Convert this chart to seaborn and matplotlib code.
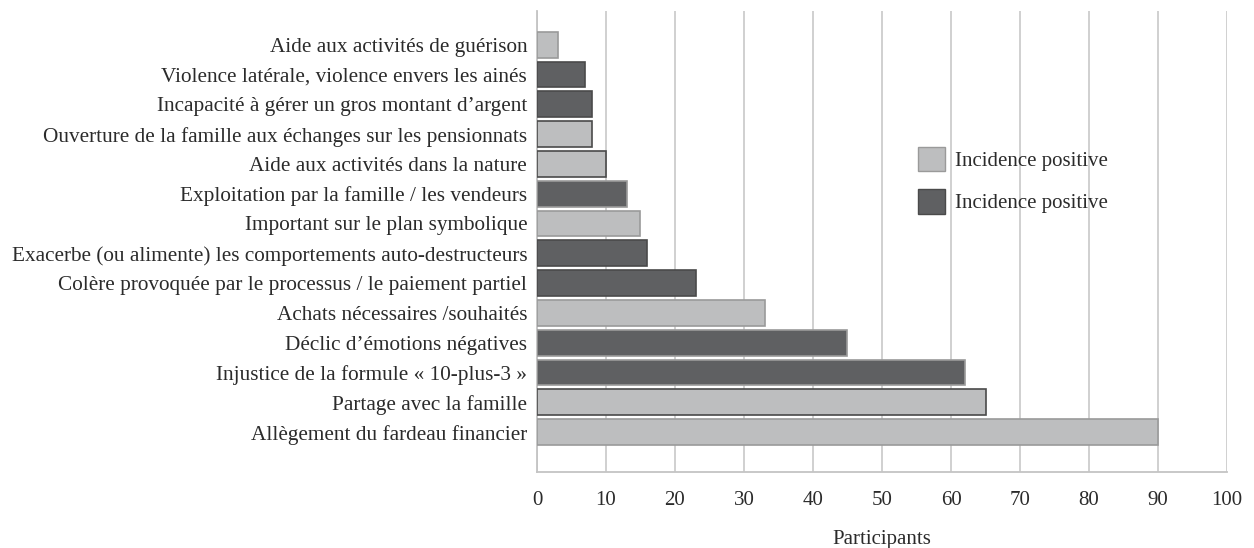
import seaborn as sns
import matplotlib.pyplot as plt
import matplotlib.patches as mpatches
import pandas as pd

# donnees (de haut en bas)
categories = [
    "Aide aux activités de guérison",
    "Violence latérale, violence envers les ainés",
    "Incapacité à gérer un gros montant d’argent",
    "Ouverture de la famille aux échanges sur les pensionnats",
    "Aide aux activités dans la nature",
    "Exploitation par la famille / les vendeurs",
    "Important sur le plan symbolique",
    "Exacerbe (ou alimente) les comportements auto-destructeurs",
    "Colère provoquée par le processus / le paiement partiel",
    "Achats nécessaires /souhaités",
    "Déclic d’émotions négatives",
    "Injustice de la formule « 10-plus-3 »",
    "Partage avec la famille",
    "Allègement du fardeau financier",
]
participants = [3, 7, 8, 8, 10, 13, 15, 16, 23, 33, 45, 62, 65, 90]
incidence = ["pos", "neg", "neg", "pos", "pos", "neg", "pos",
             "neg", "neg", "pos", "neg", "neg", "pos", "pos"]
legend_labels = ["Incidence positive", "Incidence positive"]

df = pd.DataFrame({"categorie": categories, "participants": participants,
                   "incidence": incidence})

clair = "#bdbebf"
fonce = "#5f6062"
palette = {"pos": clair, "neg": fonce}

sns.set_style("white")
plt.rcParams["font.family"] = ["Liberation Serif", "DejaVu Serif"]
texte = "#2b2b2b"

fig = plt.figure(figsize=(12.54, 5.48), dpi=100)
ax = fig.add_axes([0.4282, 0.1387, 0.9785 - 0.4282, 0.9799 - 0.1387])

sns.barplot(data=df, y="categorie", x="participants", hue="incidence",
            palette=palette, dodge=False, width=0.87, orient="h",
            legend=False, ax=ax, zorder=3)
for p, inc in zip(ax.patches, incidence):
    p.set_edgecolor("#9a9a9a" if inc == "pos" else "#4a4a4a")
    p.set_linewidth(1.2)

ax.set_xlim(0, 100)
ax.set_ylim(14.34, -1.13)
ax.set_xticks(range(0, 101, 10))
ax.grid(axis="x", color="#cdcdcd", linewidth=1.3, zorder=0)
ax.set_axisbelow(True)

for s in ["top", "right"]:
    ax.spines[s].set_visible(False)
for s in ["left", "bottom"]:
    ax.spines[s].set_color("#c4c4c4")
    ax.spines[s].set_linewidth(1.3)

ax.tick_params(axis="x", length=6, width=1.3, color="#cdcdcd",
               labelsize=15, labelcolor=texte, pad=8)
ax.tick_params(axis="y", length=0, labelsize=15.3, labelcolor=texte, pad=7)
ax.set_ylabel("")
ax.set_xlabel("Participants", fontsize=15, color=texte, labelpad=14)

handles = [mpatches.Patch(facecolor=clair, edgecolor="#9a9a9a", label=legend_labels[0]),
           mpatches.Patch(facecolor=fonce, edgecolor="#4a4a4a", label=legend_labels[1])]
leg = ax.legend(handles=handles, loc="upper left", bbox_to_anchor=(0.552, 0.706),
                frameon=False, fontsize=15, handlelength=1.3, handleheight=1.45,
                labelspacing=0.85, handletextpad=0.5, borderpad=0, borderaxespad=0)
for t in leg.get_texts():
    t.set_color(texte)

plt.savefig("out.png", dpi=100)
